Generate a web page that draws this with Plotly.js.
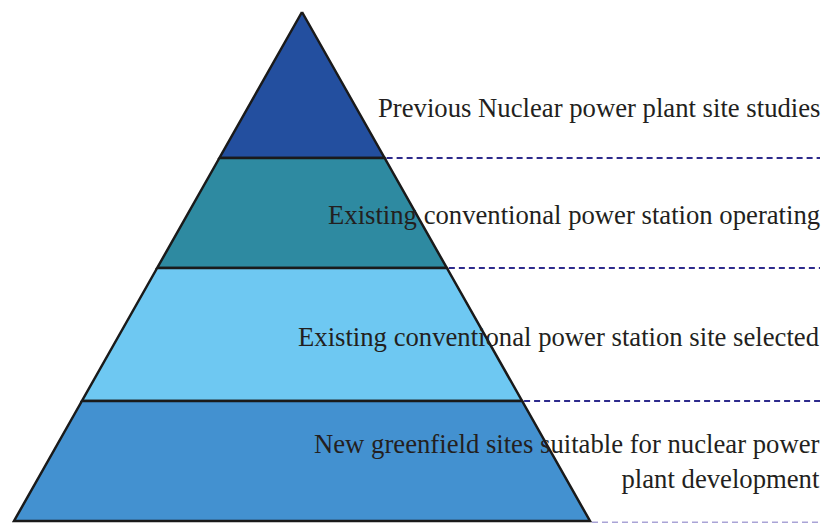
<!DOCTYPE html>
<html>
<head>
<meta charset="utf-8">
<script src="https://cdn.plot.ly/plotly-3.0.1.min.js"></script>
<style>html,body{margin:0;padding:0;background:#fff;}#chart{width:826px;height:523px;}</style>
</head>
<body>
<div id="chart"></div>
<script>
// Pyramid layers, top to bottom
const layerLabels = [
  "Previous Nuclear power plant site studies",
  "Existing conventional power station operating",
  "Existing conventional power station site selected",
  "New greenfield sites suitable for nuclear power<br>plant development"
];
// relative heights of each layer (top to bottom)
const layerHeights = [146, 110, 133, 120];
const layerColors = ["#234f9f", "#2e8aa1", "#6ec8f2", "#4391d0"];

// geometry (axis units ~ pixels)
const baseHalfWidth = 288;
const totalHeight = layerHeights.reduce((a, b) => a + b, 0);
const halfAt = y => baseHalfWidth * y / totalHeight;
const lineEnd = 518;

const traces = [];
const annotations = [];
let yTop = 0;
layerHeights.forEach((h, i) => {
  const bot = yTop + h;
  const isLast = i === layerHeights.length - 1;
  const xs = [-halfAt(yTop), halfAt(yTop), halfAt(bot), -halfAt(bot), -halfAt(yTop)];
  const ys = [yTop, yTop, bot, bot, yTop];
  traces.push({
    type: "scatter", mode: "lines", x: xs, y: ys, fill: "toself",
    fillcolor: layerColors[i], line: {color: "#1a1a1a", width: 2.5},
    hoverinfo: "skip", showlegend: false
  });
  const ly = bot + (isLast ? 1.5 : 0);
  traces.push({
    type: "scatter", mode: "lines",
    x: [halfAt(bot) + 2, lineEnd], y: [ly, ly],
    line: {color: isLast ? "#a9a3d6" : "#2d2a8c", width: 2.2, dash: "6px,4px"},
    hoverinfo: "skip", showlegend: false
  });
  annotations.push({
    x: lineEnd + 2, y: isLast ? yTop + 60 : yTop + h * (i === 0 ? 0.655 : 0.515),
    xref: "x", yref: "y", xanchor: "right", yanchor: "middle",
    text: layerLabels[i], showarrow: false, align: "right",
    font: {family: "Liberation Serif, Times New Roman, serif", size: 26.7, color: "#231f20"}
  });
  yTop = bot;
});

const layout = {
  width: 826, height: 523,
  margin: {l: 0, r: 0, t: 0, b: 0},
  paper_bgcolor: "#fff", plot_bgcolor: "#fff",
  xaxis: {range: [-302, 524], visible: false, fixedrange: true},
  yaxis: {range: [511, -12], visible: false, fixedrange: true},
  annotations: annotations,
  showlegend: false
};
Plotly.newPlot("chart", traces, layout, {displayModeBar: false, staticPlot: true});
</script>
</body>
</html>
